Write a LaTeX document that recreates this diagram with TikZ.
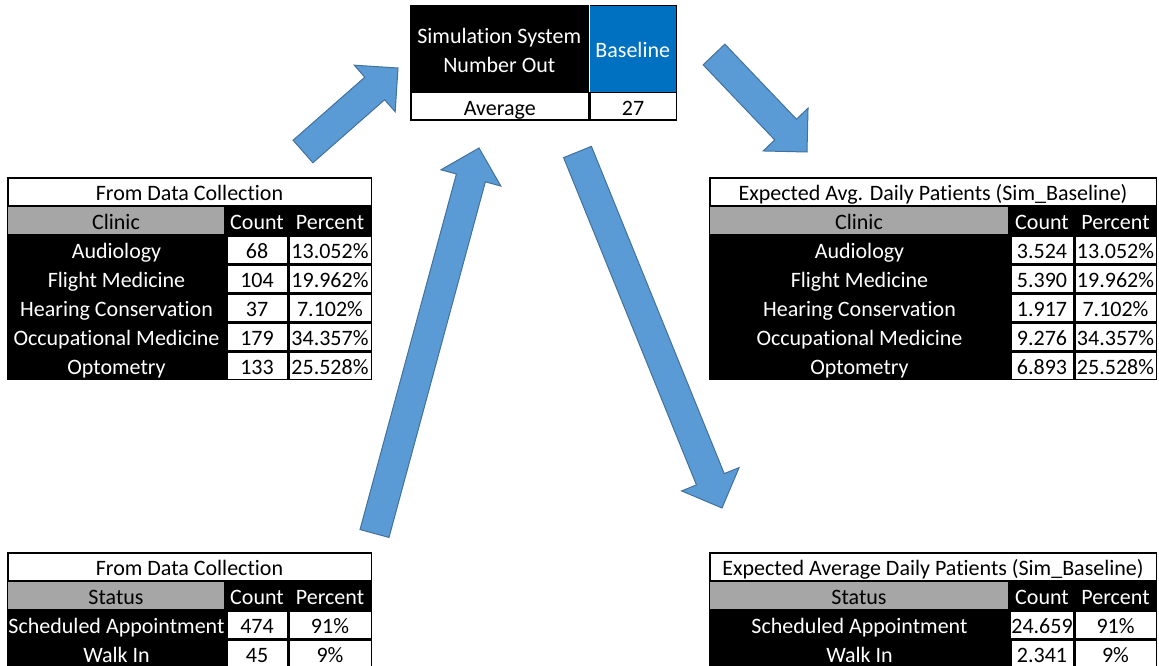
\documentclass[tikz,border=0pt]{standalone}
\usepackage{fontspec}
\setmainfont[Ligatures=NoCommon]{Carlito}
\usetikzlibrary{calc}

\definecolor{arrowfill}{RGB}{91,155,213}
\definecolor{arrowline}{RGB}{65,113,156}
\definecolor{headgray}{RGB}{166,166,166}
\definecolor{baseblue}{RGB}{0,112,192}

\tikzset{
  cellbase/.style={anchor=center, inner sep=0pt, outer sep=0pt,
    font=\fontsize{22}{26}\selectfont, text height=17.5pt, text depth=0pt},
  whitecell/.style={cellbase, fill=white, text=black},
  darkcell/.style={cellbase, fill=black, text=white},
  graycell/.style={cellbase, fill=headgray, text=black},
  bluecell/.style={cellbase, fill=baseblue, text=white},
  twoline/.style={anchor=center, inner sep=0pt, outer sep=0pt, fill=black, text=white,
    align=center, font=\fontsize{22}{28.5}\selectfont},
  blockarrow/.style={fill=arrowfill, draw=arrowline, line width=1pt, line join=miter},
}

% a cell given by its top-left corner, width and height (y grows downwards)
\newcommand\cellbox[7]{%
  \node[#1, minimum width={(#5)*1pt}, minimum height={(#6)*1pt}] (#2)
    at ({#3+(#5)/2},{#4+(#6)/2}) {#7};}

% table: #1 prefix, #2..#5 column edges, #6 top, #7 title, #8 first header, #9 rows
\newcommand\datatable[9]{%
  \pgfmathsetmacro\tabw{#5-#2}%
  \pgfmathsetmacro\namew{#3-#2}%
  \pgfmathsetmacro\cntw{#4-#3}%
  \pgfmathsetmacro\pctw{#5-#4}%
  \cellbox{darkcell}{#1-titlerow}{#2}{#6}{\tabw}{29}{}
  \cellbox{whitecell}{#1-title}{#2+1.5}{#6+1.5}{\tabw-3}{26}{#7}
  \pgfmathsetmacro\yh{#6+29}%
  \cellbox{darkcell}{#1-headrow}{#2}{\yh}{\tabw}{29}{}
  \cellbox{graycell}{#1-head1}{#2+1}{\yh+1}{\namew-3}{27}{#8}
  \cellbox{cellbase,text=white}{#1-head2}{#3}{\yh}{\cntw}{29}{Count}
  \cellbox{cellbase,text=white}{#1-head3}{#4}{\yh}{\pctw}{29}{Percent}
  \foreach \nm/\ct/\pc [count=\i] in {#9} {
    \pgfmathsetmacro\yr{#6+29*(\i+1)}
    \cellbox{darkcell}{#1-row\i}{#2}{\yr}{\tabw}{29}{}
    \cellbox{cellbase,text=white}{#1-name\i}{#2}{\yr}{\namew}{29}{\nm}
    \cellbox{whitecell}{#1-count\i}{#3+1.5}{\yr+1.5}{\cntw-3}{26}{\ct}
    \cellbox{whitecell}{#1-pct\i}{#4+1.5}{\yr+1.5}{\pctw-3}{26}{\pc}
  }%
}

\newcommand\shaftw{15pt}
\newcommand\headw{31pt}
\newcommand\headlen{31pt}
% wide block arrow from a tail coordinate to a tip coordinate
\newcommand\blockarrowpath[2]{%
  \coordinate (#2-neck) at ($(#2)!\headlen!(#1)$);
  \filldraw[blockarrow]
    ($(#1)!\shaftw!90:(#2)$) -- ($(#2-neck)!\shaftw!-90:(#1)$)
    -- ($(#2-neck)!\headw!-90:(#1)$) -- (#2)
    -- ($(#2-neck)!\headw!90:(#1)$) -- ($(#2-neck)!\shaftw!90:(#1)$)
    -- ($(#1)!\shaftw!-90:(#2)$) -- cycle;}

\begin{document}
\begin{tikzpicture}[x=1pt, y=-1pt]
\clip (0,0) rectangle (1159,666);
\fill[white] (0,0) rectangle (1159,666);

% simulation output summary
\cellbox{darkcell}{sim-frame}{410}{5}{267}{116}{}
\cellbox{twoline,yshift=-2pt}{sim-label}{410}{5}{178.5}{87}{Simulation System\\Number Out}
\fill[white] (588.5,5) rectangle (590,92);
\cellbox{bluecell}{sim-base}{590}{6.5}{85.5}{85.5}{Baseline}
\cellbox{whitecell}{sim-avg-label}{412}{93.5}{175.5}{26}{Average}
\cellbox{whitecell}{sim-avg}{590.5}{93.5}{85}{26}{27}

% clinic tables
\datatable{clin-in}{7}{226}{288}{372}{177}{From Data Collection}{Clinic}
  {Audiology/68/13.052\%, Flight Medicine/104/19.962\%,
   Hearing Conservation/37/7.102\%, Occupational Medicine/179/34.357\%,
   Optometry/133/25.528\%}
\datatable{clin-out}{709}{1010}{1074}{1157}{177}{Expected Avg. Daily Patients (Sim\_Baseline)}{Clinic}
  {Audiology/3.524/13.052\%, Flight Medicine/5.390/19.962\%,
   Hearing Conservation/1.917/7.102\%, Occupational Medicine/9.276/34.357\%,
   Optometry/6.893/25.528\%}

% status tables
\datatable{stat-in}{7}{226}{288}{372}{552}{From Data Collection}{Status}
  {Scheduled Appointment/474/91\%, Walk In/45/9\%}
\datatable{stat-out}{709}{1010}{1074}{1157}{552}{Expected Average Daily Patients (Sim\_Baseline)}{Status}
  {Scheduled Appointment/24.659/91\%, Walk In/2.341/9\%}

% flow arrows
\coordinate (arrA-tail) at (303,151.5);  \coordinate (arrA-tip) at (398,68);
\coordinate (arrB-tail) at (714,54.5);   \coordinate (arrB-tip) at (807,152);
\coordinate (arrC-tail) at (374.5,533.5); \coordinate (arrC-tip) at (479,148);
\coordinate (arrD-tail) at (577.5,152);  \coordinate (arrD-tip) at (722,508);
\blockarrowpath{arrA-tail}{arrA-tip}
\blockarrowpath{arrB-tail}{arrB-tip}
\blockarrowpath{arrC-tail}{arrC-tip}
\blockarrowpath{arrD-tail}{arrD-tip}
\end{tikzpicture}
\end{document}
